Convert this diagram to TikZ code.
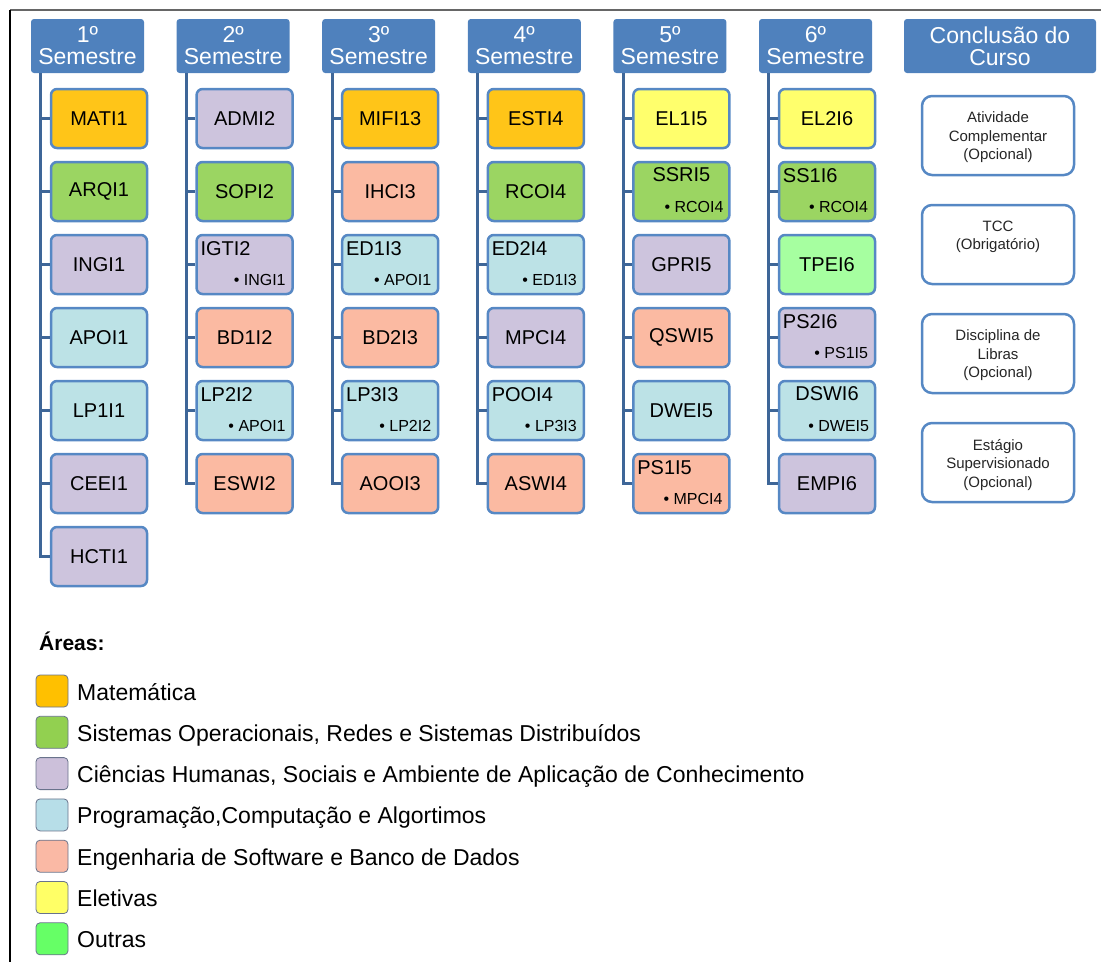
\documentclass[tikz,border=0pt]{standalone}
\usepackage{xcolor}
\usepackage{fontspec}
\setmainfont{Liberation Sans}
\usepackage{tikz}
\usetikzlibrary{positioning,calc}
\definecolor{myhead}{RGB}{79,129,189}
\definecolor{myline}{RGB}{86,136,196}
\definecolor{mytrunk}{RGB}{62,102,152}
\definecolor{myorange}{RGB}{255,197,24}
\definecolor{mygreen}{RGB}{155,213,98}
\definecolor{mylilac}{RGB}{205,196,221}
\definecolor{myblue}{RGB}{188,226,230}
\definecolor{mysalmon}{RGB}{251,186,162}
\definecolor{myyellow}{RGB}{255,255,108}
\definecolor{mylime}{RGB}{166,255,160}
\definecolor{legorange}{RGB}{255,192,0}
\definecolor{leggreen}{RGB}{146,208,80}
\definecolor{leglilac}{RGB}{204,192,218}
\definecolor{legblue}{RGB}{183,222,232}
\definecolor{legsalmon}{RGB}{250,185,165}
\definecolor{legyellow}{RGB}{255,255,102}
\definecolor{legoutras}{RGB}{102,255,102}
\definecolor{legedge}{RGB}{105,115,140}

\tikzset{
  semhead/.style={fill=myhead, rounded corners=3pt, inner sep=0pt,
    minimum height=54pt, text=white, align=center,
    font=\fontsize{23}{22}\selectfont},
  discbox/.style={draw=myline, line width=2.5pt, rounded corners=6pt,
    minimum width=96pt, minimum height=59pt, inner sep=0pt,
    font=\fontsize{20}{24}\selectfont},
  disctxt/.style={inner sep=0pt, font=\fontsize{20}{24}\selectfont},
  subtxt/.style={inner sep=0pt, font=\fontsize{16}{18}\selectfont},
  trunk/.style={draw=mytrunk, line width=3pt},
  endbox/.style={draw=myline, line width=2.5pt, rounded corners=10pt,
    fill=white, minimum width=152pt, minimum height=79pt},
  endtxt/.style={inner sep=0pt, align=center, text=black!85,
    font=\fontsize{15}{18.5}\selectfont},
  swatch/.style={draw=legedge, line width=0.8pt, rounded corners=4pt,
    minimum width=32pt, minimum height=32pt, inner sep=0pt},
  legtxt/.style={inner sep=0pt, anchor=base west,
    font=\fontsize{23}{27}\selectfont}
}

\begin{document}
\begin{tikzpicture}[x=1pt, y=-1pt]
  \useasboundingbox (0,0) rectangle (1101,962);
  % frame
  \draw[black!60, line width=2pt] (10,10) -- (1101,10);
  \draw[black, line width=1.5pt] (10,10) -- (10,962);

  % semesters
  \foreach \c in {1,...,6}{
    \node[semhead, minimum width=113pt] (sem\c)
      at ({87.5+145.6*(\c-1)}, 46) {\c º\\Semestre};
  }
  \node[semhead, minimum width=192pt] (fim) at (1000, 46)
    {Conclusão do\\Curso};

  % one-line courses
  \foreach \c/\r/\f/\t in {1/0/myorange/MATI1, 1/1/mygreen/ARQI1,
      1/2/mylilac/INGI1, 1/3/myblue/APOI1, 1/4/myblue/LP1I1,
      1/5/mylilac/CEEI1, 1/6/mylilac/HCTI1,
      2/0/mylilac/ADMI2, 2/1/mygreen/SOPI2, 2/3/mysalmon/BD1I2,
      2/5/mysalmon/ESWI2,
      3/0/myorange/MIFI13, 3/1/mysalmon/IHCI3, 3/3/mysalmon/BD2I3,
      3/5/mysalmon/AOOI3,
      4/0/myorange/ESTI4, 4/1/mygreen/RCOI4, 4/3/mylilac/MPCI4,
      4/5/mysalmon/ASWI4,
      5/0/myyellow/EL1I5, 5/2/mylilac/GPRI5, 5/3/mysalmon/QSWI5,
      5/4/myblue/DWEI5,
      6/0/myyellow/EL2I6, 6/2/mylime/TPEI6, 6/5/mylilac/EMPI6}{
    \node[discbox, fill=\f] (d-\c-\r)
      at ({99+145.6*(\c-1)}, {118.5+73*\r}) {\t};
    \draw[trunk] ($(sem\c.south west)+(10,0)$) |- (d-\c-\r.west);
  }

  % courses with a prerequisite, name on the left
  \foreach \c/\r/\f/\t/\p in {2/2/mylilac/IGTI2/INGI1,
      2/4/myblue/LP2I2/APOI1, 3/2/myblue/ED1I3/APOI1,
      3/4/myblue/LP3I3/LP2I2, 4/2/myblue/ED2I4/ED1I3,
      4/4/myblue/POOI4/LP3I3, 5/5/mysalmon/PS1I5/MPCI4,
      6/1/mygreen/SS1I6/RCOI4, 6/3/mylilac/PS2I6/PS1I5}{
    \node[discbox, fill=\f] (d-\c-\r)
      at ({99+145.6*(\c-1)}, {118.5+73*\r}) {};
    \node[disctxt, anchor=base west] (d-\c-\r-a)
      at ($(d-\c-\r.north west)+(5,22)$) {\t};
    \node[subtxt, anchor=base east] (d-\c-\r-b)
      at ($(d-\c-\r.south east)+(-8,-10)$) {• \p};
    \draw[trunk] ($(sem\c.south west)+(10,0)$) |- (d-\c-\r.west);
  }

  % courses with a prerequisite, name centred
  \foreach \c/\r/\f/\t/\p in {5/1/mygreen/SSRI5/RCOI4,
      6/4/myblue/DSWI6/DWEI5}{
    \node[discbox, fill=\f] (d-\c-\r)
      at ({99+145.6*(\c-1)}, {118.5+73*\r}) {};
    \node[disctxt, anchor=base] (d-\c-\r-a)
      at ($(d-\c-\r.north)+(0,21)$) {\t};
    \node[subtxt, anchor=base east] (d-\c-\r-b)
      at ($(d-\c-\r.south east)+(-7,-10)$) {• \p};
    \draw[trunk] ($(sem\c.south west)+(10,0)$) |- (d-\c-\r.west);
  }

  % end of course
  \foreach \k/\t in {0/{Atividade\\Complementar\\(Opcional)},
      1/{TCC\\(Obrigatório)},
      2/{Disciplina de\\Libras\\(Opcional)},
      3/{Estágio\\Supervisionado\\(Opcional)}}{
    \node[endbox] (fim\k) at (998, {135.5+109*\k}) {};
    \node[endtxt, anchor=north] (fim\k-t)
      at ($(fim\k.north)+(0,17)$) {\t};
  }

  % legend
  \node[inner sep=0pt, anchor=base west,
        font=\fontsize{21}{25}\selectfont\bfseries] (areas)
    at (39, 650) {Áreas:};
  \foreach \k/\f/\t in {0/legorange/Matemática,
      1/leggreen/{Sistemas Operacionais, Redes e Sistemas Distribuídos},
      2/leglilac/{Ciências Humanas, Sociais e Ambiente de Aplicação de Conhecimento},
      3/legblue/{Programação,Computação e Algortimos},
      4/legsalmon/{Engenharia de Software e Banco de Dados},
      5/legyellow/Eletivas,
      6/legoutras/Outras}{
    \node[swatch, fill=\f] (sw\k) at (52, {691+41.3*\k}) {};
    \node[legtxt] (lg\k) at (77, {700+41.3*\k}) {\t};
  }
\end{tikzpicture}
\end{document}
